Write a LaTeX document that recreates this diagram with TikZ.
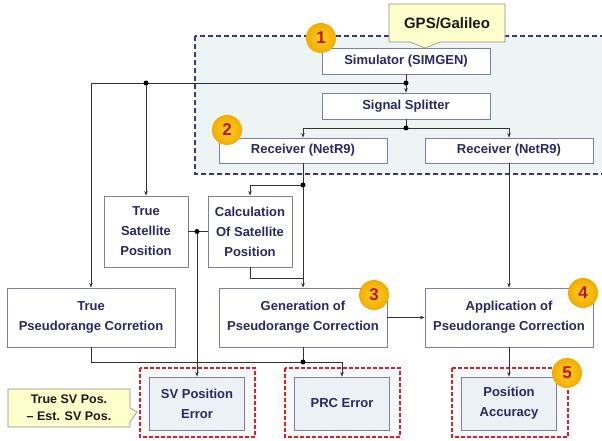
\documentclass[tikz,border=0pt]{standalone}
\usepackage{fontspec}
\setmainfont{Liberation Sans}
\usetikzlibrary{arrows.meta}
\definecolor{navy}{RGB}{40,40,100}
\definecolor{boxline}{RGB}{125,125,165}
\definecolor{lin}{RGB}{50,50,50}
\definecolor{bluedash}{RGB}{55,55,135}
\definecolor{areafill}{RGB}{238,244,244}
\definecolor{reddash}{RGB}{225,30,35}
\definecolor{resfill}{RGB}{236,241,245}
\definecolor{notefill}{RGB}{255,255,204}
\definecolor{badgein}{RGB}{255,206,40}
\definecolor{badgeout}{RGB}{242,172,0}
\definecolor{badgenum}{RGB}{190,20,20}
\begin{document}
\begin{tikzpicture}[x=1pt,y=-1pt,
  box/.style={draw=boxline, fill=white, line width=0.8pt, inner sep=0pt, align=center,
    text=navy, font=\bfseries\fontsize{13}{20}\selectfont},
  resbox/.style={box, fill=resfill},
  line/.style={draw=lin, line width=0.8pt},
  arr/.style={line, -{Stealth[length=4.5pt,width=3.5pt]}},
  jdot/.style={circle, fill=black, inner sep=0pt, minimum size=5pt},
  badge/.style={circle, inner color=badgein, outer color=badgeout, minimum size=30pt,
    inner sep=0pt, text=badgenum, font=\bfseries\fontsize{17}{17}\selectfont},
  note/.style={draw=black!45, fill=notefill, line width=0.6pt},
  notetext/.style={align=center, text=black!90, inner sep=0pt}]
\useasboundingbox (0,0) rectangle (602,441);

% hardware area
\draw[bluedash, dashed, dash pattern=on 5pt off 3pt, line width=1.3pt, fill=areafill]
  (195,36) rectangle (606,174);

% result frames
\draw[reddash, dash pattern=on 4pt off 2pt, line width=1.5pt, fill=white!60!resfill] (140,368) rectangle (255,437);
\draw[reddash, dash pattern=on 4pt off 2pt, line width=1.5pt, fill=white!60!resfill] (285,368) rectangle (400,437);
\draw[reddash, dash pattern=on 4pt off 2pt, line width=1.5pt, fill=white!60!resfill] (452,368) rectangle (568,437);

% blocks
\node[box, minimum width=168pt, minimum height=26pt] (sim) at (406,61) {Simulator (SIMGEN)};
\node[box, minimum width=168pt, minimum height=26pt] (split) at (406,106) {Signal Splitter};
\node[box, minimum width=168pt, minimum height=25pt] (rx1) at (303,150.5) {Receiver (NetR9)};
\node[box, minimum width=168pt, minimum height=25pt] (rx2) at (509,150.5) {Receiver (NetR9)};
\node[box, minimum width=84pt, minimum height=71pt] (tsp) at (146,231.5) {True\\Satellite\\Position};
\node[box, minimum width=84pt, minimum height=71pt] (calc) at (250,231.5) {Calculation\\Of Satellite\\Position};
\node[box, minimum width=168pt, minimum height=59pt] (tpc) at (91,317.5) {True\\Pseudorange Corretion};
\node[box, minimum width=168pt, minimum height=59pt] (gen) at (303,317.5) {Generation of\\Pseudorange Correction};
\node[box, minimum width=168pt, minimum height=59pt] (app) at (509,317.5) {Application of\\Pseudorange Correction};
\node[resbox, minimum width=95pt, minimum height=53pt] (sve) at (197,403.5) {SV Position\\Error};
\node[resbox, minimum width=95pt, minimum height=53pt] (prc) at (342,403.5) {PRC Error};
\node[resbox, minimum width=95pt, minimum height=53pt] (pacc) at (509,403.5) {Position\\Accuracy};

% junctions
\coordinate (j1) at (406,83);
\coordinate (j2) at (146,83);
\coordinate (j3) at (406,128);
\coordinate (j4) at (303,185);
\coordinate (j5) at (197,231.5);
\coordinate (j6) at (303,362);
\coordinate (m1) at (303,278);

% connectors
\draw[line] (sim.south) -- (j1);
\draw[arr] (j1) -- (split.north);
\draw[arr] (j1) -| (tpc.north);
\draw[arr] (j2) -- (tsp.north);
\draw[line] (split.south) -- (j3);
\draw[arr] (j3) -| (rx1.north);
\draw[arr] (j3) -| (rx2.north);
\draw[arr] (rx1.south) -- (gen.north);
\draw[arr] (j4) -| (calc.north);
\draw[line] (calc.south) |- (m1);
\draw[line] (tsp.east) -- (calc.west);
\draw[arr] (j5) -- (sve.north);
\draw[arr] (rx2.south) -- (app.north);
\draw[arr] (gen.east) -- (app.west);
\draw[line] (tpc.south) |- (j6);
\draw[line] (gen.south) -- (j6);
\draw[arr] (j6) -| (prc.north);
\draw[arr] (app.south) -- (pacc.north);

\foreach \p in {j1,j2,j3,j4,j5,j6} \node[jdot] at (\p) {};

% step badges
\node[badge] (b1) at (321,38) {1};
\node[badge] (b2) at (227,130) {2};
\node[badge] (b3) at (374,295) {3};
\node[badge] (b4) at (583,293) {4};
\node[badge] (b5) at (567,373) {5};

% notes
\draw[note] (389,4) -- (505,4) -- (505,42) -- (440,42) -- (425,48) -- (410,42) -- (389,42) -- cycle;
\node[notetext, font=\bfseries\fontsize{15}{15}\selectfont] (gnss) at (447,23) {GPS/Galileo};
\draw[note] (8,389) -- (130,389) -- (130,408) -- (137,412) -- (130,422) -- (130,427) -- (8,427) -- cycle;
\node[notetext, font=\bfseries\fontsize{12.5}{17}\selectfont] (diff) at (69,408) {True SV Pos.\\-- Est. SV Pos.};
\end{tikzpicture}
\end{document}
